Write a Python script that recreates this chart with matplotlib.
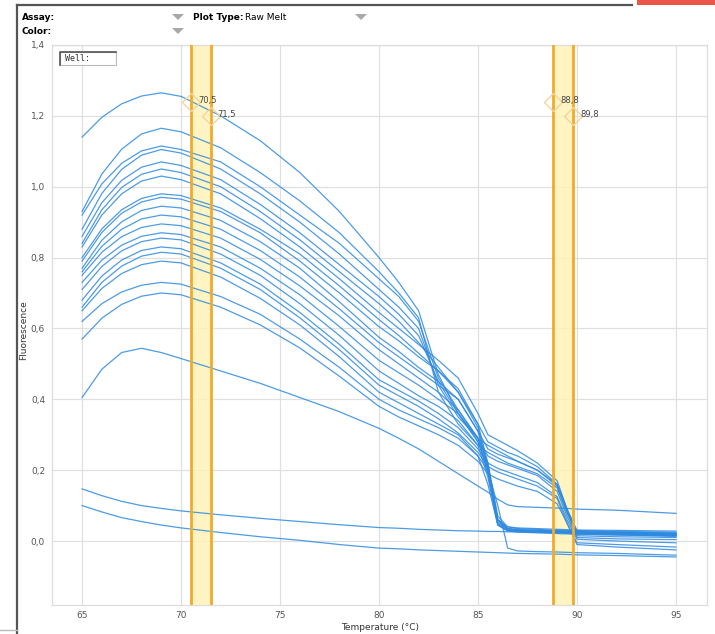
import matplotlib
matplotlib.use("Agg")
import matplotlib.pyplot as plt
from matplotlib.patches import Rectangle, Polygon

W, H = 715, 634

# temperature grid (deg C) shared by all melt curves
temps = [65, 66, 67, 68, 69, 70, 72, 74, 76, 78, 80, 81, 82, 83, 84, 85, 85.5,
         86, 86.5, 87, 88, 89, 89.5, 90, 92, 95]

# raw melt fluorescence per well
well_01 = [1.14, 1.196, 1.234, 1.256, 1.265, 1.255, 1.20, 1.13, 1.04, 0.93, 0.80, 0.73, 0.65, 0.47, 0.36, 0.28, 0.20, 0.06, 0.04, 0.037, 0.035, 0.033, 0.032, 0.031, 0.030, 0.028]
well_02 = [0.93, 1.036, 1.106, 1.149, 1.165, 1.155, 1.11, 1.04, 0.96, 0.87, 0.76, 0.70, 0.63, 0.42, 0.33, 0.27, 0.25, 0.235, 0.22, 0.21, 0.19, 0.15, 0.08, 0.025, 0.022, 0.020]
well_03 = [0.92, 1.008, 1.066, 1.101, 1.115, 1.105, 1.07, 1.00, 0.92, 0.84, 0.74, 0.69, 0.62, 0.46, 0.37, 0.29, 0.22, 0.07, 0.04, 0.035, 0.033, 0.030, 0.030, 0.029, 0.027, 0.025]
well_04 = [0.88, 0.981, 1.049, 1.089, 1.105, 1.095, 1.05, 0.98, 0.90, 0.81, 0.71, 0.66, 0.60, 0.44, 0.35, 0.29, 0.27, 0.255, 0.24, 0.225, 0.20, 0.16, 0.09, 0.030, 0.025, 0.022]
well_05 = [0.86, 0.955, 1.018, 1.055, 1.07, 1.06, 1.02, 0.95, 0.87, 0.78, 0.69, 0.64, 0.58, 0.45, 0.36, 0.28, 0.21, 0.06, 0.035, 0.032, 0.030, 0.028, 0.027, 0.026, 0.025, 0.022]
well_06 = [0.84, 0.935, 0.998, 1.035, 1.05, 1.04, 1.00, 0.93, 0.85, 0.76, 0.67, 0.62, 0.56, 0.49, 0.42, 0.33, 0.22, 0.06, 0.035, 0.032, 0.030, 0.028, 0.027, 0.026, 0.024, 0.020]
well_07 = [0.83, 0.92, 0.98, 1.016, 1.03, 1.02, 0.98, 0.91, 0.83, 0.74, 0.645, 0.60, 0.555, 0.51, 0.46, 0.36, 0.30, 0.285, 0.27, 0.255, 0.22, 0.17, 0.09, 0.025, 0.020, 0.018]
well_08 = [0.80, 0.881, 0.935, 0.967, 0.98, 0.975, 0.94, 0.88, 0.81, 0.72, 0.625, 0.58, 0.53, 0.48, 0.42, 0.32, 0.21, 0.055, 0.035, 0.030, 0.028, 0.026, 0.025, 0.024, 0.022, 0.020]
well_09 = [0.79, 0.871, 0.925, 0.957, 0.97, 0.965, 0.93, 0.87, 0.79, 0.70, 0.605, 0.565, 0.52, 0.48, 0.43, 0.33, 0.28, 0.265, 0.25, 0.24, 0.21, 0.16, 0.085, 0.020, 0.017, 0.015]
well_10 = [0.77, 0.849, 0.901, 0.933, 0.945, 0.94, 0.905, 0.845, 0.77, 0.675, 0.575, 0.535, 0.49, 0.45, 0.40, 0.31, 0.20, 0.05, 0.032, 0.030, 0.028, 0.026, 0.025, 0.024, 0.020, 0.017]
well_11 = [0.76, 0.832, 0.88, 0.909, 0.92, 0.915, 0.88, 0.82, 0.745, 0.655, 0.56, 0.52, 0.48, 0.44, 0.40, 0.31, 0.26, 0.245, 0.235, 0.225, 0.20, 0.155, 0.08, 0.015, 0.012, 0.010]
well_12 = [0.75, 0.815, 0.859, 0.885, 0.895, 0.89, 0.855, 0.795, 0.72, 0.635, 0.54, 0.50, 0.46, 0.42, 0.37, 0.29, 0.19, 0.05, 0.030, 0.028, 0.026, 0.024, 0.023, 0.022, 0.020, 0.016]
well_13 = [0.73, 0.793, 0.835, 0.86, 0.87, 0.865, 0.83, 0.77, 0.695, 0.605, 0.51, 0.475, 0.44, 0.40, 0.36, 0.29, 0.24, 0.225, 0.215, 0.205, 0.185, 0.14, 0.07, 0.010, 0.006, 0.004]
well_14 = [0.71, 0.775, 0.819, 0.845, 0.855, 0.85, 0.81, 0.75, 0.67, 0.58, 0.48, 0.445, 0.41, 0.38, 0.34, 0.27, 0.18, 0.045, 0.030, 0.027, 0.025, 0.023, 0.022, 0.021, 0.019, 0.015]
well_15 = [0.68, 0.748, 0.793, 0.82, 0.83, 0.825, 0.785, 0.725, 0.645, 0.555, 0.455, 0.425, 0.395, 0.36, 0.32, 0.26, 0.22, 0.205, 0.195, 0.185, 0.165, 0.125, 0.06, 0.005, 0.000, -0.005]
well_16 = [0.66, 0.73, 0.776, 0.804, 0.815, 0.81, 0.77, 0.71, 0.63, 0.54, 0.44, 0.41, 0.38, 0.345, 0.305, 0.25, 0.21, 0.195, 0.185, 0.175, 0.155, 0.12, 0.05, -0.005, -0.010, -0.017]
well_17 = [0.65, 0.713, 0.755, 0.78, 0.79, 0.785, 0.745, 0.685, 0.61, 0.52, 0.42, 0.39, 0.36, 0.33, 0.30, 0.24, 0.16, 0.045, 0.028, 0.025, 0.023, 0.021, 0.020, 0.019, 0.017, 0.013]
well_18 = [0.62, 0.67, 0.703, 0.722, 0.73, 0.725, 0.69, 0.64, 0.57, 0.49, 0.40, 0.37, 0.345, 0.32, 0.29, 0.24, 0.20, 0.10, -0.02, -0.028, -0.030, -0.031, -0.032, -0.033, -0.035, -0.040]
well_19 = [0.57, 0.629, 0.668, 0.691, 0.70, 0.695, 0.66, 0.61, 0.545, 0.465, 0.38, 0.35, 0.325, 0.30, 0.27, 0.225, 0.19, 0.175, 0.165, 0.155, 0.14, 0.105, 0.05, -0.010, -0.017, -0.025]
well_20 = [0.405, 0.485, 0.532, 0.544, 0.532, 0.515, 0.48, 0.445, 0.405, 0.365, 0.318, 0.29, 0.26, 0.225, 0.19, 0.155, 0.138, 0.118, 0.102, 0.097, 0.095, 0.093, 0.092, 0.090, 0.087, 0.078]
well_21 = [0.147, 0.128, 0.112, 0.100, 0.092, 0.085, 0.074, 0.064, 0.055, 0.046, 0.038, 0.036, 0.033, 0.031, 0.029, 0.028, 0.027, 0.027, 0.026, 0.026, 0.025, 0.025, 0.024, 0.024, 0.023, 0.021]
well_22 = [0.100, 0.082, 0.066, 0.055, 0.045, 0.037, 0.024, 0.012, 0.002, -0.010, -0.020, -0.022, -0.025, -0.027, -0.029, -0.031, -0.032, -0.033, -0.034, -0.035, -0.036, -0.037, -0.038, -0.039, -0.041, -0.045]

wells = [well_01, well_02, well_03, well_04, well_05, well_06, well_07, well_08,
         well_09, well_10, well_11, well_12, well_13, well_14, well_15, well_16,
         well_17, well_18, well_19, well_20, well_21, well_22]

# melt region cursors
regions = [(70.5, 71.5), (88.8, 89.8)]
cursor_labels = ["70,5", "71,5", "88,8", "89,8"]
cursor_y = [1.24, 1.20, 1.24, 1.20]

xticks = [65, 70, 75, 80, 85, 90, 95]
yticks = [0.0, 0.2, 0.4, 0.6, 0.8, 1.0, 1.2, 1.4]


def px(x, y):
    return x / W, 1 - y / H


fig = plt.figure(figsize=(W / 100, H / 100), dpi=100)
fig.patch.set_facecolor("white")

ax = fig.add_axes([52 / W, 1 - 605 / H, 655 / W, 560 / H])
ax.set_xlim(63.48, 96.57)
ax.set_ylim(-0.1806, 1.4)

for w in wells:
    ax.plot(temps, w, color="#2e8ae0", lw=0.9, alpha=0.85, zorder=3,
            solid_joinstyle="round")

for lo, hi in regions:
    ax.axvspan(lo, hi, color="#fff3b8", alpha=0.85, lw=0, zorder=2)
    ax.axvline(lo, color="#f2aa2a", lw=2, zorder=4)
    ax.axvline(hi, color="#f2aa2a", lw=2, zorder=4)

# cursor diamonds and their temperature labels
cursor_x = [regions[0][0], regions[0][1], regions[1][0], regions[1][1]]
for cx, cy, lab in zip(cursor_x, cursor_y, cursor_labels):
    ax.plot(cx, cy, marker="D", ms=9.5, mfc="none", mec="#f4d49a", mew=1.0, zorder=5)
    ax.text(cx + 0.35, cy + 0.003, lab, fontsize=6, color="#444444",
            va="center", ha="left", zorder=6)

ax.set_xticks(xticks)
ax.set_yticks(yticks)
ax.set_xticklabels([str(v) for v in xticks])
ax.set_yticklabels([f"{v:.1f}".replace(".", ",") for v in yticks])
ax.tick_params(length=0, labelsize=6.5, colors="#555555")
ax.tick_params(axis="x", pad=4)
ax.tick_params(axis="y", pad=5)
ax.grid(True, color="#e0e0e0", lw=0.9)
ax.set_axisbelow(True)
for s in ax.spines.values():
    s.set_color("#dddddd")
    s.set_linewidth(0.9)

fig.text(*px(380, 627), "Temperature (\u00b0C)", fontsize=6.5, color="#333333",
         ha="center", va="center")
fig.text(*px(24, 330), "Fluorescence", fontsize=6.5, color="#333333",
         ha="center", va="center", rotation=90)

# header bar
fig.text(*px(22, 18), "Assay:", fontsize=6.5, fontweight="bold", va="center")
fig.text(*px(22, 32), "Color:", fontsize=6.5, fontweight="bold", va="center")
fig.text(*px(193, 18), "Plot Type:", fontsize=6.5, fontweight="bold", va="center")
fig.text(*px(245, 18), "Raw Melt", fontsize=6.5, va="center")
for tx, ty in [(178, 17), (178, 31), (361, 17)]:
    tri = Polygon([px(tx - 6, ty - 3), px(tx + 6, ty - 3), px(tx, ty + 3)],
                  closed=True, transform=fig.transFigure, color="#a8a8a8", lw=0)
    fig.add_artist(tri)

# well filter box
x0, y0 = px(60, 65)
box = Rectangle((x0, y0), 56 / W, 13 / H, transform=fig.transFigure,
                facecolor="white", edgecolor="#bbbbbb", lw=0.8, zorder=10)
fig.add_artist(box)
fig.add_artist(plt.Line2D([60 / W, 60 / W, 116 / W], [1 - 65 / H, 1 - 52 / H, 1 - 52 / H],
                          transform=fig.transFigure, color="#555555", lw=1.2, zorder=11))
fig.text(*px(65, 58.5), "Well:", fontsize=6, family="DejaVu Sans Mono",
         va="center", color="#333333", zorder=12)

# window frame
fig.add_artist(plt.Line2D([17 / W, 632 / W], [1 - 5 / H, 1 - 5 / H],
                          transform=fig.transFigure, color="#555555", lw=1.6))
fig.add_artist(plt.Line2D([17 / W, 17 / W], [1 - 5 / H, 0], transform=fig.transFigure,
                          color="#555555", lw=1.6))
fig.add_artist(Rectangle(px(637, 5), 78 / W, 5 / H, transform=fig.transFigure,
                         color="#ea5548", lw=0))
fig.add_artist(plt.Line2D([0, 17 / W], [1 - 630 / H, 1 - 630 / H], transform=fig.transFigure,
                          color="#bbbbbb", lw=1))

fig.savefig("out.png", dpi=100)
